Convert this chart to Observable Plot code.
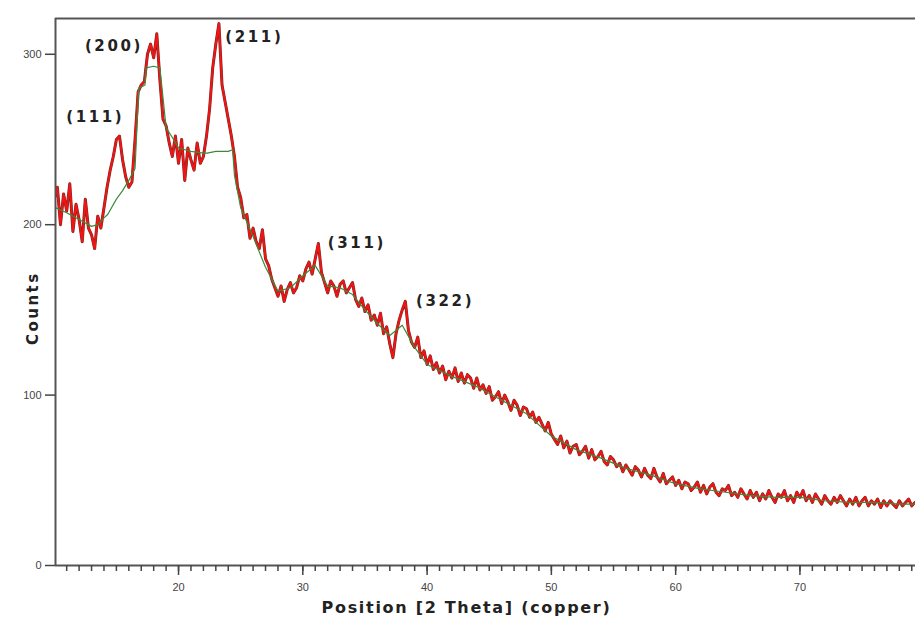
<!DOCTYPE html>
<html>
<head>
<meta charset="utf-8">
<script src="https://cdn.jsdelivr.net/npm/d3@7"></script>
<script src="https://cdn.jsdelivr.net/npm/@observablehq/plot@0.6"></script>
<style>
  html, body { margin: 0; padding: 0; background: #fff; }
  #chart svg { display: block; }
</style>
</head>
<body>
<div id="chart"></div>
<script>
// Scan grid (2θ, degrees)
const scanStart = 10.0;
const scanStep = 0.25;

const counts = [
  215, 222, 200, 218,  208, 224, 196, 212,  203, 190, 215, 198,  194, 186, 205, 198,
  210, 222, 232, 240,  250, 252, 238, 228,  222, 225, 250, 278,  282, 284, 300, 306,
  298, 312, 285, 262,  258, 248, 240, 252,  236, 250, 226, 245,  238, 232, 248, 236,
  240, 252, 268, 292,  306, 318, 282, 272,  262, 252, 240, 222,  216, 204, 206, 192,
  198, 190, 186, 197,  180, 176, 168, 163,  158, 164, 155, 162,  166, 160, 163, 170,
  167, 174, 178, 171,  180, 189, 172, 166,  160, 167, 164, 158,  165, 167, 160, 163,
  166, 156, 152, 157,  149, 153, 144, 147,  141, 148, 136, 140,  130, 122, 136, 144,
  150, 155, 138, 131,  128, 134, 122, 126,  118, 123, 115, 119,  113, 117, 109, 114,
  110, 116, 108, 113,  107, 112, 110, 104,  110, 103, 106, 101,  105,  97,  99, 102,
   95, 100,  96,  91,   97,  94,  88,  93,   92,  87,  90,  84,   87,  83,  79,  84,
   77,  74,  71,  76,   69,  73,  66,  70,   71,  65,  67,  70,   63,  68,  62,  64,
   67,  61,  59,  64,   62,  58,  60,  55,   59,  56,  53,  58,   56,  52,  57,  53,
   51,  57,  52,  49,   54,  48,  50,  52,   47,  50,  45,  49,   48,  44,  46,  49,
   43,  47,  42,  46,   48,  43,  41,  45,   44,  47,  41,  43,   40,  45,  42,  39,
   44,  40,  43,  38,   42,  39,  44,  40,   37,  42,  40,  44,   38,  41,  37,  43,
   40,  44,  38,  41,   37,  42,  39,  36,   41,  38,  36,  40,   37,  41,  38,  35,
   39,  36,  40,  35,   38,  40,  35,  38,   36,  39,  34,  38,   35,  38,  36,  34,
   38,  35,  37,  39,   35,  37,  36
];

// Fitted profile (green line)
const fitX = [10.1, 11, 12, 13, 13.5, 14, 14.3, 15, 15.5, 16, 16.5, 16.8, 17.3, 17.4, 18.0, 18.5, 19.0, 19.6,
  20, 21, 22, 22.3, 23, 24, 24.35, 24.5, 25, 26, 27, 28, 29, 30, 31, 32, 33, 34, 35, 36, 37, 38, 39, 40,
  42, 44, 46, 48, 50, 52, 54, 56, 58, 60, 62, 64, 66, 68, 70, 72, 74, 76, 78, 79.5];
const fitY = [210, 207, 203, 199, 200, 204, 206, 215, 220, 226, 233, 280, 282, 292, 293, 292, 257, 250,
  245, 243, 242, 242, 243, 243, 244, 229, 210, 193, 175, 161, 163, 170, 176, 164, 163, 159, 150, 142, 135, 141, 128, 118,
  111, 105, 97, 89, 76, 68, 63, 57, 53, 48, 45, 43, 41, 40, 40, 38, 37, 37, 36, 36];

// Peak labels
const peakNames = ["(111)", "(200)", "(211)", "(311)", "(322)"];
const peakLabelX = [13.3, 14.8, 26.1, 34.35, 41.45];
const peakLabelY = [262.8, 305, 310.3, 188.9, 155.4];

// Axis ticks
const xMajorTicks = [20, 30, 40, 50, 60, 70];
const xMinorTicks = d3.range(11, 80);
const yTicks = [0, 100, 200, 300];

// Axis titles
const xTitle = "Position [2 Theta] (copper)";
const yTitle = "Counts";

const scan = counts.map((c, i) => ({x: scanStart + i * scanStep, y: c}));
const fit = fitX.map((x, i) => ({x, y: fitY[i]}));
const peaks = peakNames.map((name, i) => ({name, x: peakLabelX[i], y: peakLabelY[i]}));

const xDomain = [10.1, 79.3];
const yDomain = [0, 321];
const boldFont = "'DejaVu Sans', Verdana, sans-serif";

const chart = Plot.plot({
  width: 915,
  height: 623,
  marginLeft: 55,
  marginRight: 0,
  marginTop: 18,
  marginBottom: 58,
  style: {background: "#fff", fontFamily: "'Liberation Sans', Arial, sans-serif"},
  x: {domain: xDomain},
  y: {domain: yDomain},
  marks: [
    Plot.line(scan, {x: "x", y: "y", stroke: "#6e2c24", strokeWidth: 3.0, clip: true}),
    Plot.line(scan, {x: "x", y: "y", stroke: "#f21414", strokeWidth: 2.0, clip: true}),
    Plot.line(fit, {x: "x", y: "y", stroke: "#3d8a3a", strokeWidth: 1.2, clip: true}),
    Plot.ruleX([xDomain[0]], {stroke: "#555", strokeWidth: 2}),
    Plot.ruleY([0], {stroke: "#555", strokeWidth: 2}),
    Plot.ruleY([yDomain[1]], {stroke: "#555", strokeWidth: 2}),
    Plot.axisX({ticks: xMinorTicks, tickSize: 6, tickFormat: () => "", stroke: "#444", strokeWidth: 1.5, label: null}),
    Plot.axisX({ticks: xMajorTicks, tickSize: 10, tickPadding: 8, fontSize: 11, fill: "#444", stroke: "#444", strokeWidth: 1.5, label: null}),
    Plot.axisY({ticks: yTicks, tickSize: 10, tickPadding: 4, fontSize: 11, fill: "#444", stroke: "#444", strokeWidth: 1.5, label: null}),
    Plot.text(peaks, {x: "x", y: "y", text: "name", fontSize: 15, fontWeight: "bold", fill: "#222", fontFamily: boldFont}),
    Plot.text([yTitle], {frameAnchor: "left", y: [151], dx: -22, rotate: -90, textAnchor: "middle", fontSize: 15, fontWeight: "bold", fill: "#222", fontFamily: boldFont}),
    Plot.text([xTitle], {frameAnchor: "bottom", dx: -19, dy: 47, fontSize: 16, fontWeight: "bold", fill: "#222", fontFamily: boldFont})
  ]
});

// Letter spacing (not a Plot text option): applied to the rendered text nodes
const spacing = new Map([[xTitle, "1.7px"], [yTitle, "2.5px"]]);
peakNames.forEach(n => spacing.set(n, "2.6px"));
d3.select(chart).selectAll("text").each(function() {
  const s = spacing.get(this.textContent);
  if (s) this.style.letterSpacing = s;
});
document.getElementById("chart").appendChild(chart);
</script>
</body>
</html>
